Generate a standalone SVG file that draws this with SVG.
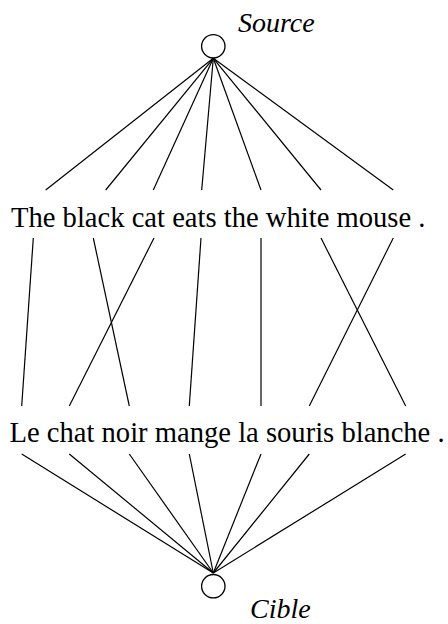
<svg xmlns="http://www.w3.org/2000/svg" width="448" height="624" viewBox="0 0 448 624">
<style>
.n{fill:#fff;stroke:#000;stroke-width:1.3}
.l{stroke:#000;stroke-width:1.2;fill:none}
.t{font-family:"Liberation Serif","Times New Roman",serif;font-size:28.6px;fill:#000}
.i{font-family:"Liberation Serif","Times New Roman",serif;font-size:28px;font-style:italic;fill:#000}
</style>
<rect width="448" height="624" fill="#fff"/>
<g id="connectors" class="l">
<line x1="213.3" y1="58.3" x2="45.7" y2="190"/>
<line x1="213.3" y1="58.3" x2="105.7" y2="190"/>
<line x1="213.3" y1="58.3" x2="153.3" y2="190"/>
<line x1="213.3" y1="58.3" x2="201.7" y2="190"/>
<line x1="213.3" y1="58.3" x2="261" y2="190"/>
<line x1="213.3" y1="58.3" x2="321" y2="190"/>
<line x1="213.3" y1="58.3" x2="393.3" y2="190"/>
<line x1="33.3" y1="238" x2="21.7" y2="406"/>
<line x1="93.3" y1="238" x2="129.3" y2="406"/>
<line x1="154" y1="238" x2="69.3" y2="406"/>
<line x1="201" y1="238" x2="189.3" y2="406"/>
<line x1="261" y1="238" x2="261" y2="406"/>
<line x1="321" y1="238" x2="405.7" y2="406"/>
<line x1="393.3" y1="238" x2="309.3" y2="406"/>
<line x1="21.7" y1="454" x2="213.3" y2="573"/>
<line x1="69.3" y1="454" x2="213.3" y2="573"/>
<line x1="129.3" y1="454" x2="213.3" y2="573"/>
<line x1="189.3" y1="454" x2="213.3" y2="573"/>
<line x1="261" y1="454" x2="213.3" y2="573"/>
<line x1="309.3" y1="454" x2="213.3" y2="573"/>
<line x1="405.7" y1="454" x2="213.3" y2="573"/>
</g>
<g id="source">
<circle class="n" cx="213.3" cy="46.3" r="11.7"/>
<text class="i" x="238" y="31.7">Source</text>
</g>
<g id="english">
<text class="t" x="11" y="226.7">The black cat eats the white mouse .</text>
</g>
<g id="french">
<text class="t" x="9.5" y="442">Le chat noir mange la souris blanche .</text>
</g>
<g id="cible">
<circle class="n" cx="213.3" cy="586.2" r="11.7"/>
<text class="i" x="250" y="617.5">Cible</text>
</g>
</svg>
